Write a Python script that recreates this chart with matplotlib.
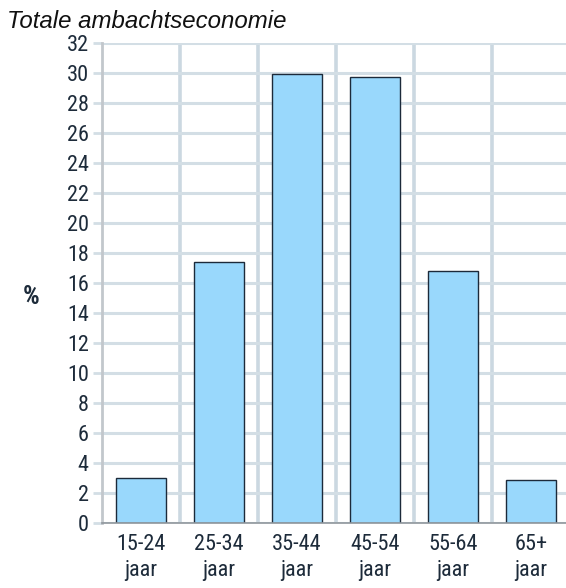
import numpy as np
import matplotlib
matplotlib.use("Agg")
import matplotlib.pyplot as plt
from matplotlib.ticker import FixedLocator

# data
categories = ["15-24\njaar", "25-34\njaar", "35-44\njaar", "45-54\njaar", "55-64\njaar", "65+\njaar"]
percentages = [3.0, 17.4, 29.9, 29.7, 16.8, 2.85]
y_ticks = list(range(0, 33, 2))

# narrow face like the reference's axis labels
plt.rcParams["font.family"] = ["Roboto Condensed", "Liberation Sans", "DejaVu Sans"]

text_color = "#1d2b3a"
grid_color = "#d3dee5"
vgrid_color = "#cbd8e1"

fig = plt.figure(figsize=(5.66, 5.88), dpi=100)
ax = fig.add_axes([102 / 566, 65.3 / 588, 464 / 566, 479.7 / 588])

x = np.arange(len(categories))
ax.bar(x, percentages, width=0.64, color="#99d8fc", edgecolor="#1c2a3a", linewidth=1.0, zorder=3)

ax.set_xlim(-0.5, -0.5 + 464 / 78)
ax.set_ylim(0, 32)

ax.set_yticks(y_ticks)
ax.set_xticks(x)
ax.set_xticklabels(categories, linespacing=1.35)
ax.xaxis.set_minor_locator(FixedLocator(x[:-1] + 0.5))

ax.grid(axis="y", which="major", color=grid_color, linewidth=2.2, zorder=0)
ax.grid(axis="x", which="minor", color=vgrid_color, linewidth=2.6, zorder=0)
ax.grid(axis="x", which="major", visible=False)

ax.tick_params(axis="y", length=6.5, width=2, color=grid_color, pad=3, labelsize=16, labelcolor=text_color)
ax.tick_params(axis="x", which="major", length=0, pad=8, labelsize=16, labelcolor=text_color)
ax.tick_params(axis="x", which="minor", length=0)

for side in ["top", "right"]:
    ax.spines[side].set_visible(False)
ax.spines["left"].set_color("#c2c7cc")
ax.spines["left"].set_linewidth(2)
ax.spines["bottom"].set_color("#8f969c")
ax.spines["bottom"].set_linewidth(1.2)
ax.spines["bottom"].set_zorder(4)

fig.text(31 / 566, 1 - 297 / 588, "%", fontsize=19, fontweight="bold", color=text_color, ha="center", va="center")

fig.text(7 / 566, 1 - 21 / 588, "Totale ambachtseconomie", fontsize=17.3, style="italic",
         family=["Liberation Sans", "DejaVu Sans"], color="#111111", va="center", ha="left")

fig.savefig("out.png", dpi=100)
